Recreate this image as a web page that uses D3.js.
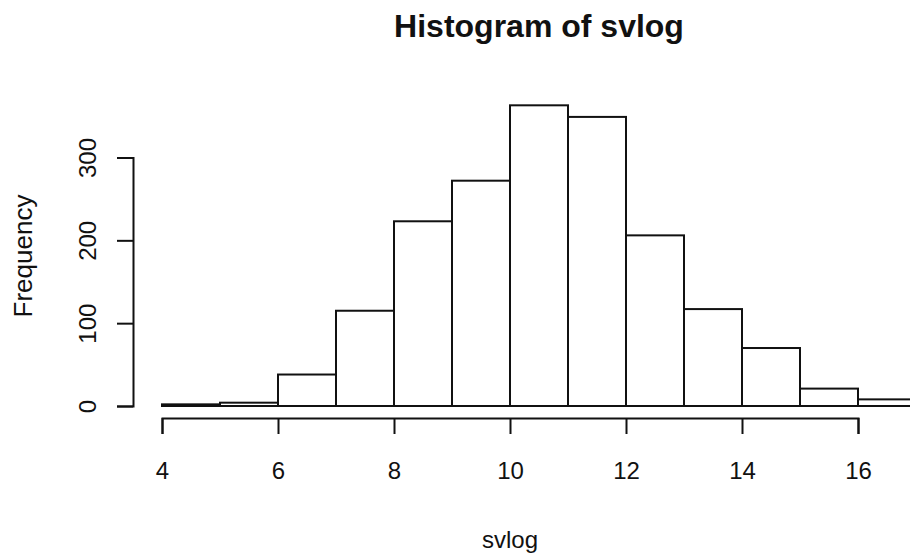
<!DOCTYPE html>
<html>
<head>
<meta charset="utf-8">
<script src="https://cdn.jsdelivr.net/npm/d3@7"></script>
<style>
  body { margin: 0; background: white; }
  svg { display: block; font-family: "Liberation Sans", Arial, sans-serif; }
</style>
</head>
<body>
<div id="chart"></div>
<script>
// bin edges and counts
let binStarts = [4, 5, 6, 7, 8, 9, 10, 11, 12, 13, 14, 15, 16]
let binWidth = 1
let counts = [2, 4, 38, 115, 223, 272, 363, 349, 206, 117, 70, 21, 8]
let xTicks = [4, 6, 8, 10, 12, 14, 16]
let yTicks = [0, 100, 200, 300]

let width = 910
let height = 558

let x = d3.scaleLinear([4, 16], [162, 858])
let y = d3.scaleLinear([0, 300], [406, 157.5])

const svg = d3.select("#chart").append("svg")
  .attr("width", width)
  .attr("height", height)
  .attr("viewBox", [0, 0, width, height])

// title
svg.append("text")
  .attr("x", 539)
  .attr("y", 37)
  .attr("text-anchor", "middle")
  .attr("font-weight", "bold")
  .attr("font-size", 32)
  .attr("fill", "#111")
  .text("Histogram of svlog")

// bars
let bins = binStarts.map((b, i) => ({x0: b, x1: b + binWidth, n: counts[i]}))
svg.append("g")
  .selectAll("rect")
  .data(bins)
  .join("rect")
  .attr("x", d => x(d.x0))
  .attr("y", d => y(d.n))
  .attr("width", d => x(d.x1) - x(d.x0))
  .attr("height", d => y(0) - y(d.n))
  .attr("fill", "white")
  .attr("stroke", "#111")
  .attr("stroke-width", 2)

// x axis
svg.append("g")
  .attr("transform", "translate(0,418)")
  .call(d3.axisBottom(x).tickValues(xTicks).tickFormat(d3.format("d")).tickSize(16).tickPadding(28))
  .call(g => g.select(".domain").attr("stroke-width", 2).attr("stroke", "#111"))
  .call(g => g.selectAll(".tick line").attr("stroke-width", 2).attr("stroke", "#111"))
  .call(g => g.selectAll(".tick text").attr("font-size", 24).attr("fill", "#111").attr("font-family", null))

// y axis
svg.append("g")
  .attr("transform", "translate(133,0)")
  .call(d3.axisLeft(y).tickValues(yTicks).tickSize(16).tickPadding(0))
  .call(g => g.select(".domain").attr("stroke-width", 2).attr("stroke", "#111"))
  .call(g => g.selectAll(".tick line").attr("stroke-width", 2).attr("stroke", "#111"))
  .call(g => g.selectAll(".tick text")
    .attr("font-size", 24)
    .attr("fill", "#111")
    .attr("font-family", null)
    .attr("x", null)
    .attr("dy", null)
    .attr("text-anchor", "middle")
    .attr("transform", "translate(-46,0) rotate(-90)")
    .attr("dominant-baseline", "central"))

// axis titles
svg.append("text")
  .attr("x", 510)
  .attr("y", 548)
  .attr("text-anchor", "middle")
  .attr("font-size", 24)
  .attr("fill", "#111")
  .text("svlog")

svg.append("text")
  .attr("transform", "translate(32,256) rotate(-90)")
  .attr("text-anchor", "middle")
  .attr("font-size", 26)
  .attr("fill", "#111")
  .text("Frequency")
</script>
</body>
</html>
